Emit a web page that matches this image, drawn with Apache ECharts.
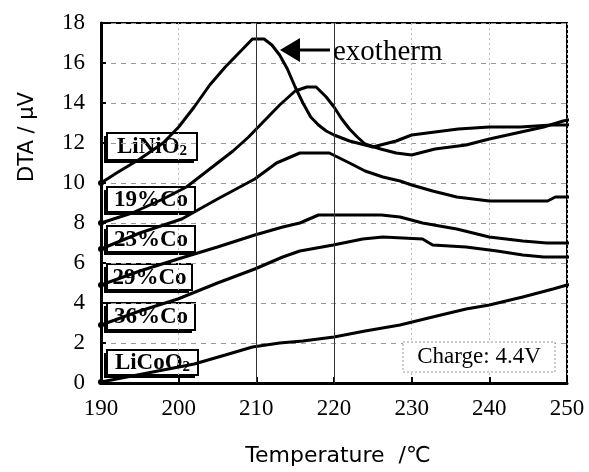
<!DOCTYPE html>
<html>
<head>
<meta charset="utf-8">
<title>DTA</title>
<script src="https://cdn.jsdelivr.net/npm/echarts@6/dist/echarts.min.js"></script>
<style>
  body { margin: 0; background: #fff; }
  #main { width: 589px; height: 472px; }
</style>
</head>
<body>
<div id="main"></div>
<script>
  // temperature (℃) / DTA (μV) pairs
  var liNiO2 = [[190, 10.0], [192, 10.5], [195, 11.2], [198, 12.0], [200, 12.8], [202, 13.8], [204, 14.9], [206, 15.8], [208, 16.6], [209.5, 17.2], [211, 17.2], [212, 16.9], [213, 16.4], [214, 15.7], [215, 14.8], [216, 14.0], [217, 13.3], [218, 12.9], [219, 12.6], [220, 12.4], [222, 12.1], [224, 11.9], [225, 11.8], [226, 11.9], [228, 12.1], [230, 12.4], [232, 12.5], [236, 12.7], [240, 12.8], [244, 12.8], [248, 12.9], [250, 12.9], [252, 13.0]];
  var co19 = [[190, 8.0], [194, 8.5], [198, 9.2], [201, 9.8], [204, 10.7], [207, 11.6], [209, 12.3], [211, 13.1], [213, 13.9], [215, 14.6], [216.5, 14.8], [217.7, 14.8], [219, 14.3], [220, 13.8], [221, 13.2], [222, 12.7], [223, 12.3], [224, 11.95], [226, 11.7], [228, 11.5], [230, 11.4], [233, 11.7], [237, 11.9], [240, 12.2], [243.5, 12.5], [247, 12.8], [249.5, 13.1], [252, 13.3]];
  var co23 = [[190, 6.7], [195, 7.5], [200.4, 8.2], [205, 9.2], [209.8, 10.2], [212.6, 11.0], [215.6, 11.5], [219.4, 11.5], [222, 11.0], [224, 10.6], [226.3, 10.3], [228.5, 10.1], [230, 9.9], [232.7, 9.6], [235.8, 9.3], [240, 9.1], [247.5, 9.1], [248.5, 9.3], [252, 9.3]];
  var co29 = [[190, 4.9], [195, 5.6], [199.9, 6.2], [205, 6.8], [209.8, 7.4], [213.4, 7.8], [215.6, 8.0], [218, 8.4], [226.1, 8.4], [228.5, 8.3], [231.4, 8.0], [235.8, 7.7], [240, 7.3], [244.3, 7.1], [247.4, 7.0], [252, 7.0]];
  var co36 = [[190, 2.9], [195, 3.6], [199.9, 4.2], [205, 5.0], [209.8, 5.7], [213.4, 6.3], [215.6, 6.6], [219.9, 6.9], [223.7, 7.2], [226.3, 7.3], [231.4, 7.2], [232.7, 6.9], [237, 6.8], [241, 6.6], [244.3, 6.4], [247, 6.3], [252, 6.3]];
  var liCoO2 = [[190, 0.05], [196, 0.5], [202, 0.95], [206, 1.4], [209.5, 1.8], [213, 2.0], [216, 2.1], [220, 2.3], [224, 2.6], [228.5, 2.9], [232.7, 3.3], [237, 3.7], [240, 3.9], [244.3, 4.3], [248.2, 4.7], [250, 4.9], [251.5, 5.0]];
  var seriesNames = ['LiNiO2', '19%Co', '23%Co', '29%Co', '36%Co', 'LiCoO2'];
  var solidGridX = [210, 220];

  var serif = '"Liberation Serif", "Times New Roman", serif';
  var sans = '"DejaVu Sans", "Noto Sans CJK JP", sans-serif';

  function curve(name, data) {
    return {
      name: name,
      type: 'line',
      data: data,
      clip: false,
      symbol: 'circle',
      symbolSize: function (v, p) { return p.dataIndex === 0 ? 6 : 0; },
      itemStyle: { color: '#000' },
      lineStyle: { color: '#000', width: 3 },
      z: 3
    };
  }

  // boxed curve labels on the left side
  function tag(x, y, w, h, content, rich) {
    return {
      type: 'group', x: x, y: y, z: 100,
      children: [
        { type: 'rect', shape: { x: -3, y: 3, width: w, height: h }, style: { fill: '#000' } },
        { type: 'rect', shape: { x: 0, y: 0, width: w, height: h }, style: { fill: '#fff', stroke: '#000', lineWidth: 2 } },
        {
          type: 'text', x: w / 2, y: h / 2 + 1,
          style: { text: content, rich: rich, font: 'bold 23px ' + serif, fill: '#000', align: 'center', verticalAlign: 'middle' }
        }
      ]
    };
  }
  var subRich = {
    m: { font: 'bold 23px ' + serif, fill: '#000' },
    s: { font: 'bold 15px ' + serif, fill: '#000', verticalAlign: 'bottom', padding: [6, 0, 0, 0] }
  };

  var chart = echarts.init(document.getElementById('main'));
  var series = [liNiO2, co19, co23, co29, co36, liCoO2].map(function (d, i) { return curve(seriesNames[i], d); });
  series[0].markLine = {
    silent: true,
    symbol: 'none',
    label: { show: false },
    lineStyle: { color: '#333', width: 1, type: 'solid' },
    data: solidGridX.map(function (v) { return { xAxis: v }; })
  };

  chart.setOption({
    animation: false,
    grid: { left: 101, right: 22, top: 23, bottom: 89, show: true, borderColor: '#000', borderWidth: 2 },
    xAxis: {
      type: 'value', min: 190, max: 250, interval: 10,
      axisLine: { lineStyle: { color: '#000', width: 3 } },
      axisTick: { inside: true, length: 6, lineStyle: { color: '#000', width: 2 } },
      axisLabel: { fontFamily: serif, fontSize: 23, color: '#000', margin: 14 },
      splitLine: { show: true, lineStyle: { color: '#bbb', width: 1, type: [2, 3] } }
    },
    yAxis: {
      type: 'value', min: 0, max: 18, interval: 2,
      axisLine: { show: true, lineStyle: { color: '#000', width: 3 } },
      axisTick: { show: true, inside: true, length: 5, lineStyle: { color: '#000', width: 2 } },
      axisLabel: { fontFamily: serif, fontSize: 23, color: '#000', margin: 16 },
      splitLine: { show: true, lineStyle: { color: '#999', width: 1, type: [5, 5] } }
    },
    series: series,
    graphic: [
      { type: 'text', x: 28, y: 137, rotation: Math.PI / 2, z: 100,
        style: { text: 'DTA / μV', font: '21px ' + sans, fill: '#000', align: 'center', verticalAlign: 'middle' } },
      { type: 'text', x: 338, y: 456, z: 100,
        style: { text: 'Temperature  /℃', font: '22px ' + sans, fill: '#000', align: 'center', verticalAlign: 'middle' } },
      tag(107, 133, 90, 27, '{m|LiNiO}{s|2}', subRich),
      tag(107, 187, 88, 25, '19%Co'),
      tag(107, 226, 88, 26, '23%Co'),
      tag(107, 264, 85, 26, '29%Co'),
      tag(107, 303, 88, 27, '36%Co'),
      tag(107, 350, 91, 25, '{m|LiCoO}{s|2}', subRich),
      { type: 'polygon', z: 100, shape: { points: [[280, 50], [300, 38], [300, 62]] }, style: { fill: '#000' } },
      { type: 'line', z: 100, shape: { x1: 299, y1: 50, x2: 330, y2: 50 }, style: { stroke: '#000', lineWidth: 3 } },
      { type: 'text', x: 333, y: 52, z: 100,
        style: { text: 'exotherm', font: '29px ' + serif, fill: '#000', align: 'left', verticalAlign: 'middle' } },
      { type: 'rect', z: 100, shape: { x: 403, y: 342, width: 152, height: 30 },
        style: { fill: '#fff', stroke: '#999', lineWidth: 1, lineDash: [2, 2] } },
      { type: 'text', x: 479, y: 357, z: 101,
        style: { text: 'Charge: 4.4V', font: '23px ' + serif, fill: '#000', align: 'center', verticalAlign: 'middle' } }
    ]
  });
</script>
</body>
</html>
